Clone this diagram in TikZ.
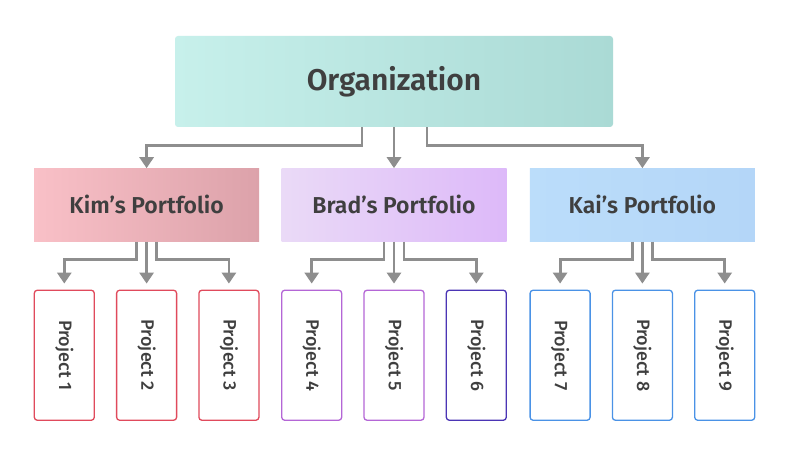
\documentclass[tikz,border=0pt]{standalone}
\usepackage{fontspec}
\setmainfont{Fira Sans}[BoldFont={Fira Sans SemiBold}]
\newfontfamily\projfont{Fira Sans Medium}
\usepackage{graphicx}
\usetikzlibrary{positioning,arrows.meta}

\definecolor{txtgray}{HTML}{3F3F3F}
\definecolor{lngray}{HTML}{8E8E8E}
\definecolor{kimred}{HTML}{E04A5C}
\definecolor{bradpurple}{HTML}{B466D6}
\definecolor{bradblue}{HTML}{4B35B5}
\definecolor{kaiblue}{HTML}{4A92E6}

\tikzset{
  orgbox/.style={rounded corners=3pt, minimum width=438pt, minimum height=91pt,
    text=txtgray, font=\fontsize{30}{34}\selectfont\bfseries},
  portbox/.style={minimum width=225pt, minimum height=73pt,
    text=txtgray, font=\fontsize{23}{27}\selectfont\bfseries},
  project/.style={draw=#1, line width=1.3pt, rounded corners=3pt, fill=white,
    minimum width=60pt, minimum height=130pt,
    text=txtgray, font=\fontsize{18}{21}\selectfont\projfont},
  conn/.style={draw=lngray, line width=2.8pt,
    -{Triangle[width=14pt,length=11pt]}},
}

\begin{document}
\begin{tikzpicture}[x=1pt, y=-1pt]
  \useasboundingbox[fill=white] (0,0) rectangle (788,465);

  \node[orgbox, left color={rgb,255:red,199;green,240;blue,235},
    right color={rgb,255:red,170;green,218;blue,213}] (org) at (394,81.5) {Organization};

  \node[portbox, below=41pt of org, left color={rgb,255:red,234;green,218;blue,247},
    right color={rgb,255:red,221;green,185;blue,249}] (brad) {Brad’s Portfolio};
  \node[portbox, left=22pt of brad, left color={rgb,255:red,249;green,192;blue,199},
    right color={rgb,255:red,220;green,162;blue,170}] (kim) {Kim’s Portfolio};
  \node[portbox, right=23pt of brad, left color={rgb,255:red,187;green,221;blue,250},
    right color={rgb,255:red,180;green,214;blue,248}] (kai) {Kai’s Portfolio};

  \node[project=kimred, below=48pt of kim] (p2) {\rotatebox{-90}{Project 2}};
  \node[project=kimred, left=21pt of p2] (p1) {\rotatebox{-90}{Project 1}};
  \node[project=kimred, right=21pt of p2] (p3) {\rotatebox{-90}{Project 3}};

  \node[project=bradpurple, below=48pt of brad] (p5) {\rotatebox{-90}{Project 5}};
  \node[project=bradpurple, left=21pt of p5] (p4) {\rotatebox{-90}{Project 4}};
  \node[project=bradblue, right=21pt of p5] (p6) {\rotatebox{-90}{Project 6}};

  \node[project=kaiblue, below=48pt of kai] (p8) {\rotatebox{-90}{Project 8}};
  \node[project=kaiblue, left=21pt of p8] (p7) {\rotatebox{-90}{Project 7}};
  \node[project=kaiblue, right=21pt of p8] (p9) {\rotatebox{-90}{Project 9}};

  % organization to portfolios
  \draw[conn] ([xshift=-32pt]org.south) |- ([yshift=23pt]kim.north) -- (kim.north);
  \draw[conn] (org.south) -- (brad.north);
  \draw[conn] ([xshift=33pt]org.south) |- ([yshift=23pt]kai.north) -- (kai.north);

  % portfolios to projects
  \draw[conn, shorten >=6pt] ([xshift=-10pt]kim.south) |- ([yshift=30pt]p1.north) -- (p1.north);
  \draw[conn, shorten >=6pt] (kim.south) -- (p2.north);
  \draw[conn, shorten >=6pt] ([xshift=10pt]kim.south) |- ([yshift=30pt]p3.north) -- (p3.north);

  \draw[conn, shorten >=6pt] ([xshift=-10pt]brad.south) |- ([yshift=30pt]p4.north) -- (p4.north);
  \draw[conn, shorten >=6pt] (brad.south) -- (p5.north);
  \draw[conn, shorten >=6pt] ([xshift=10pt]brad.south) |- ([yshift=30pt]p6.north) -- (p6.north);

  \draw[conn, shorten >=6pt] ([xshift=-10pt]kai.south) |- ([yshift=30pt]p7.north) -- (p7.north);
  \draw[conn, shorten >=6pt] (kai.south) -- (p8.north);
  \draw[conn, shorten >=6pt] ([xshift=10pt]kai.south) |- ([yshift=30pt]p9.north) -- (p9.north);
\end{tikzpicture}
\end{document}
